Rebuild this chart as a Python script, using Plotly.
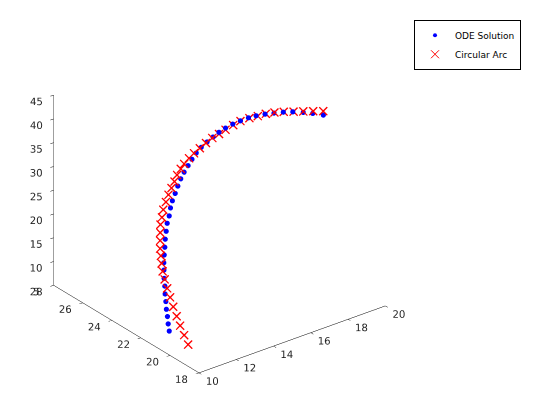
import plotly.graph_objects as go

# ODE solution (blue dots)
ode_x = [10.43,10.45,10.49,10.51,10.56,10.60,10.66,10.70,10.77,10.84,10.94,11.05,11.15,11.28,11.41,11.52,11.59,11.69,11.84,11.98,12.14,12.32,12.53,12.74,12.97,13.24,13.55,13.87,14.19,14.54,14.93,15.34,15.77,16.18,16.66,17.14,17.64,18.15,18.71,19.22,19.79]
ode_y = [20.6,20.7,20.8,20.9,21.0,21.1,21.2,21.3,21.4,21.5,21.6,21.7,21.8,21.9,22.0] + [22.0]*26
ode_z = [8.41,9.71,11.02,12.33,13.70,15.05,16.45,17.82,19.29,20.54,21.86,23.15,24.51,25.81,27.12,28.52,30.10,31.47,32.80,34.15,35.45,36.60,37.68,38.72,39.72,40.54,41.22,41.81,42.35,42.74,43.03,43.14,43.17,43.02,42.69,42.23,41.73,41.07,40.16,39.23,38.07]

# Circular arc (red crosses)
arc_x = [10.82,10.76,10.70,10.67,10.64,10.63,10.63,10.65,10.70,10.72,10.76,10.80,10.88,10.96,11.05,11.13,11.20,11.34,11.48,11.64,11.80,11.94,12.14,12.32,12.58,12.85,13.16,13.49,13.83,14.19,14.54,14.95,15.34,15.82,16.27,16.70,17.16,17.66,18.19,18.71,19.24,19.78]
arc_y = [19.8,20.0,20.2,20.4,20.6,20.8,21.0,21.2,21.4,21.5,21.6,21.7,21.8,21.9,22.0] + [22.0]*27
arc_z = [6.50,8.20,9.91,11.57,13.23,14.86,16.38,17.87,19.11,20.58,21.94,23.23,24.61,25.99,27.35,28.77,30.29,31.70,33.03,34.21,35.36,36.56,37.54,38.34,39.16,39.83,40.45,41.08,41.66,41.99,42.39,42.80,43.08,43.03,42.83,42.70,42.34,41.77,41.06,40.37,39.68,38.93]

x_ticks = [10, 12, 14, 16, 18, 20]
y_ticks = [18, 20, 22, 24, 26, 28]
z_ticks = [5, 10, 15, 20, 25, 30, 35, 40, 45]
series_names = ["ODE Solution", "Circular Arc"]

fig = go.Figure()
fig.add_trace(go.Scatter3d(x=ode_x, y=ode_y, z=ode_z, mode="markers", name=series_names[0],
                           showlegend=False, marker=dict(color="#0000ff", size=3, symbol="circle")))
fig.add_trace(go.Scatter3d(x=arc_x, y=arc_y, z=arc_z, mode="text", name=series_names[1],
                           showlegend=False, text=["\u00d7"] * len(arc_x), textposition="middle center",
                           textfont=dict(family="DejaVu Sans", size=16, color="#ff0000")))
# legend entries
fig.add_trace(go.Scatter(x=[None], y=[None], mode="markers", name=series_names[0],
                         marker=dict(color="#0000ff", size=4, symbol="circle")))
fig.add_trace(go.Scatter(x=[None], y=[None], mode="markers", name=series_names[1],
                         marker=dict(color="#ff0000", size=8, symbol="x-thin-open",
                                     line=dict(color="#ff0000", width=1))))

def ax(rng, ticks):
    return dict(range=rng, tickvals=ticks, ticktext=[str(t) for t in ticks], autorange=False,
                showgrid=False, zeroline=False, showbackground=False, showspikes=False,
                showline=True, linecolor="black", linewidth=1, ticks="inside", ticklen=4,
                tickcolor="black", title=dict(text=""), tickangle=0,
                tickfont=dict(family="DejaVu Sans", size=11, color="#262626"))

el_dir = (-0.541, -0.7006, 0.4654)
k = 2.0
s = 1.23
fig.update_layout(
    width=560, height=420, margin=dict(l=0, r=0, t=0, b=0),
    paper_bgcolor="white", plot_bgcolor="white",
    xaxis=dict(visible=False), yaxis=dict(visible=False),
    scene=dict(
        domain=dict(x=[0.0034, 0.7524], y=[0.0867, 0.9975]),
        xaxis=ax([10, 20], x_ticks), yaxis=ax([18, 28], y_ticks), zaxis=ax([5, 45], z_ticks),
        aspectmode="manual", aspectratio=dict(x=1.0*s, y=1.01*s, z=0.912*s),
        camera=dict(eye=dict(x=el_dir[0]*k, y=el_dir[1]*k, z=el_dir[2]*k),
                    up=dict(x=0, y=0, z=1), center=dict(x=0, y=0, z=0),
                    projection=dict(type="orthographic")),
    ),
    legend=dict(x=0.725, y=0.972, xanchor="left", yanchor="top", bgcolor="white",
                bordercolor="black", borderwidth=1, itemwidth=30, tracegroupgap=0,
                font=dict(family="DejaVu Sans", size=9, color="black")),
)
fig.write_html("out.html")
